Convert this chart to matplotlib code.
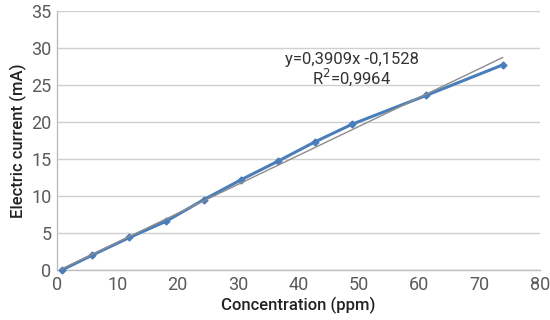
import matplotlib; matplotlib.use("Agg")
import matplotlib.pyplot as plt
import numpy as np

conc = [0.8, 5.8, 12.0, 18.1, 24.3, 30.5, 36.6, 42.7, 48.9, 61.2, 73.8]
current = [0.0, 2.0, 4.4, 6.6, 9.5, 12.2, 14.7, 17.3, 19.7, 23.6, 27.7]
slope, intercept = 0.3909, -0.1528
fit_label = "y=0,3909x -0,1528"
r2_label = "R$^2$=0,9964"

x_ticks = [0, 10, 20, 30, 40, 50, 60, 70, 80]
y_ticks = [0, 5, 10, 15, 20, 25, 30, 35]

BLUE, GRAY = "#4A7EBB", "#8C8C8C"
plt.rcParams.update({"font.family": ["Roboto", "DejaVu Sans"]})

fig = plt.figure(figsize=(5.5, 3.2), dpi=100)
ax = fig.add_axes([0.1036, 0.156, 0.8782, 0.81])

ax.set_xlim(0, 80); ax.set_ylim(0, 35)
ax.set_xticks(x_ticks); ax.set_yticks(y_ticks)
ax.grid(axis="y", color="#D0D0D0", lw=1.0)
ax.set_axisbelow(True)
for s in ("top", "right"):
    ax.spines[s].set_visible(False)
for s in ("left", "bottom"):
    ax.spines[s].set_color("#BDBDBD"); ax.spines[s].set_linewidth(1.0)
ax.tick_params(length=0, labelsize=13, labelcolor="#5A5A5A", pad=4)

ax.plot(conc, current, color=BLUE, lw=2.2, marker="D", ms=3.5,
        mfc=BLUE, mec=BLUE, zorder=3, clip_on=False)
xf = np.array([conc[0], conc[-1]])
ax.plot(xf, slope * xf + intercept, color=GRAY, lw=1.0, zorder=4)

ax.text(48.8, 28.5, fit_label, ha="center", va="center", fontsize=12, color="#333333")
ax.text(48.8, 26.0, r2_label, ha="center", va="center", fontsize=12, color="#333333")

ax.set_xlabel("Concentration (ppm)", fontsize=12, color="#222222", weight="medium", labelpad=2)
ax.set_ylabel("Electric current (mA)", fontsize=12, color="#222222", weight="medium", labelpad=3)

fig.savefig("out.png", dpi=100)
